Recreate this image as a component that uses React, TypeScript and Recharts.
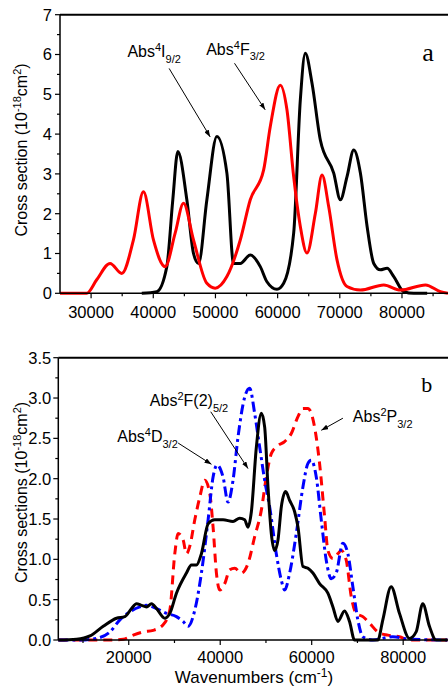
import React from "react";
import {
  LineChart,
  Line,
  XAxis,
  YAxis,
  ReferenceLine,
  ReferenceDot,
} from "recharts";

const FONT = "'Liberation Sans', Arial, sans-serif";
const SERIF = "'Liberation Serif', 'Times New Roman', serif";

// ---- panel a : Abs 4I9/2 (black) and Abs 4F3/2 (red)
const i92X = [38150, 40570, 42180, 43140, 43950, 45400, 46470, 47280, 48620, 50230, 51840, 52910, 53990, 55600, 57210, 58280, 59890, 60970, 62580, 63650, 64450, 65530, 66870, 69020, 70090, 71160, 72240, 73310, 74390, 75460, 76530, 77610, 78680, 80290, 81900, 84050];
const i92Y = [0, 0.04, 0.67, 2.35, 3.56, 2.35, 1.0, 0.75, 2.35, 3.94, 3.02, 0.75, 0.75, 0.96, 0.67, 0.29, 0.1, 0.25, 1.51, 4.86, 6.03, 5.28, 3.85, 3.02, 2.35, 2.93, 3.6, 3.02, 1.68, 0.75, 0.59, 0.63, 0.42, 0.04, 0, 0];

const f32X = [25000, 29290, 30900, 33050, 34930, 36810, 38420, 40030, 41910, 43520, 44860, 46470, 48620, 49960, 51840, 53990, 55600, 57750, 58820, 60430, 61500, 62580, 63650, 64720, 66070, 67140, 68210, 69550, 71160, 73310, 77070, 79750, 83780, 86200, 87400];
const f32Y = [0, 0, 0.34, 0.75, 0.5, 1.34, 2.55, 1.34, 0.67, 1.51, 2.26, 1.34, 0.25, 0.13, 0.42, 1.34, 2.35, 3.1, 4.19, 5.23, 4.61, 2.93, 1.68, 1.01, 2.01, 2.97, 2.18, 0.84, 0.17, 0.08, 0.21, 0.08, 0.21, 0.04, 0];

// ---- panel b : Abs 2F(2)5/2 (black), Abs 4D3/2 (blue), Abs 2P3/2 (red)
const f52X = [4600, 8600, 11510, 14420, 17330, 19150, 20610, 21700, 22790, 23880, 24980, 26070, 27890, 28980, 30430, 32620, 33710, 34800, 35890, 37350, 38800, 40620, 42800, 44260, 45350, 46080, 46810, 47900, 48990, 49720, 50440, 51170, 51900, 52630, 53360, 54300, 55180, 56270, 57000, 58090, 59180, 60270, 61720, 63540, 64640, 65730, 67180, 68270, 69370, 74460, 75550, 77370, 79190, 81370, 82830, 84280, 85740, 87190, 89670];
const f52Y = [0, 0.01, 0.05, 0.17, 0.27, 0.29, 0.39, 0.45, 0.43, 0.41, 0.45, 0.39, 0.27, 0.33, 0.58, 0.83, 0.93, 0.93, 1.07, 1.44, 1.49, 1.49, 1.47, 1.51, 1.49, 1.4, 1.59, 2.39, 2.81, 2.64, 1.9, 1.32, 1.11, 1.24, 1.65, 1.84, 1.73, 1.59, 1.4, 0.91, 0.89, 0.83, 0.7, 0.58, 0.41, 0.23, 0.36, 0.23, 0, 0, 0.25, 0.66, 0.33, 0.02, 0.1, 0.45, 0.17, 0, 0];

const d32X = [4600, 9330, 12970, 15880, 18060, 20250, 22430, 23880, 26070, 28250, 30430, 31890, 32980, 34440, 35890, 37350, 38440, 39310, 40620, 41710, 42800, 43900, 45350, 46440, 47530, 48630, 49720, 50810, 52260, 53360, 54080, 55180, 56630, 58090, 59180, 59910, 61000, 62090, 63180, 64270, 65360, 66820, 67910, 69000, 70090, 71180, 73370, 77730, 81370, 89670];
const d32Y = [0, 0, 0.02, 0.1, 0.25, 0.35, 0.41, 0.43, 0.39, 0.33, 0.29, 0.23, 0.17, 0.37, 0.83, 1.49, 2.02, 2.17, 2.02, 1.71, 1.98, 2.52, 3.01, 3.12, 2.81, 2.39, 1.98, 1.65, 1.07, 0.74, 0.62, 0.83, 1.32, 1.9, 2.19, 2.23, 2.02, 1.49, 0.99, 0.76, 0.83, 1.2, 1.07, 0.66, 0.25, 0.04, 0, 0.04, 0.01, 0];

const p32X = [4600, 15880, 18790, 20970, 23160, 25340, 27520, 28980, 30070, 30800, 31890, 32620, 33340, 34440, 35530, 36620, 37710, 38440, 39170, 39890, 40990, 42080, 43170, 44620, 46080, 47530, 48990, 50080, 51170, 52630, 54080, 55540, 57000, 58090, 59180, 60630, 61720, 62820, 63540, 64640, 65730, 66460, 67550, 68640, 69730, 71180, 72640, 74460, 76640, 79190, 81370, 89670];
const p32Y = [0, 0, 0.01, 0.06, 0.1, 0.12, 0.19, 0.37, 1.07, 1.32, 1.24, 1.07, 1.16, 1.49, 1.77, 1.98, 1.82, 1.4, 0.83, 0.62, 0.7, 0.87, 0.89, 0.83, 0.95, 1.28, 1.61, 2.02, 2.31, 2.41, 2.46, 2.56, 2.77, 2.87, 2.87, 2.64, 2.19, 1.53, 1.11, 1.01, 1.07, 1.11, 0.99, 0.54, 0.33, 0.29, 0.21, 0.1, 0.06, 0.04, 0, 0];

// ticks
const aXMajor = [30000, 40000, 50000, 60000, 70000, 80000];
const aXMinor = [35000, 45000, 55000, 65000, 75000, 85000];
const aYMajor = [0, 1, 2, 3, 4, 5, 6, 7];
const aYMinor = [0.5, 1.5, 2.5, 3.5, 4.5, 5.5, 6.5];
const bXMajor = [20000, 40000, 60000, 80000];
const bXMinor = [10000, 30000, 50000, 70000];
const bYMajor = [0, 0.5, 1, 1.5, 2, 2.5, 3, 3.5];
const bYMinor = [0.25, 0.75, 1.25, 1.75, 2.25, 2.75, 3.25];

const zip = (xs: number[], ys: number[]) => xs.map((x, i) => ({ x, y: ys[i] }));

type Part = [string, "n" | "sup" | "sub"];

// text with super/subscripts; ax/ay (if given) win over whatever recharts passes in
function RichText(props: any) {
  const { parts, size = 16, anchor = "start", rotate = false } = props;
  const x = props.ax ?? props.x;
  const y = props.ay ?? props.y;
  let cur = 0;
  const small = Math.round(size * 0.68);
  return (
    <text
      x={x}
      y={y}
      fontFamily={FONT}
      fontSize={size}
      fill="#000"
      textAnchor={anchor}
      transform={rotate ? `rotate(-90 ${x} ${y})` : undefined}
    >
      {parts.map(([t, k]: Part, i: number) => {
        const target = k === "sup" ? -size * 0.36 : k === "sub" ? size * 0.36 : 0;
        const dy = target - cur;
        cur = target;
        return (
          <tspan key={i} dy={dy} fontSize={k === "n" ? size : small}>
            {t}
          </tspan>
        );
      })}
    </text>
  );
}

const XTick = ({ x, y, payload, majors, off }: any) => {
  const major = majors.includes(payload.value);
  return (
    <g>
      <line x1={x} x2={x} y1={y} y2={y + (major ? 5 : 3)} stroke="#000" strokeWidth={1.2} />
      {major && (
        <text x={x} y={y + off} textAnchor="middle" fontFamily={FONT} fontSize={16.5} fill="#000">
          {payload.value}
        </text>
      )}
    </g>
  );
};

const YTick = ({ x, y, payload, majors, gap, fmt }: any) => {
  const major = majors.includes(payload.value);
  return (
    <g>
      <line x1={x - (major ? 5 : 3)} x2={x} y1={y} y2={y} stroke="#000" strokeWidth={1.2} />
      {major && (
        <text x={x - gap} y={y} dy="0.36em" textAnchor="end" fontFamily={FONT} fontSize={16.5} fill="#000">
          {fmt(payload.value)}
        </text>
      )}
    </g>
  );
};

const arrowDefs = (id: string) => (
  <defs>
    <marker id={id} markerWidth={7} markerHeight={5} refX={7} refY={2.5} orient="auto" markerUnits="userSpaceOnUse">
      <path d="M0,0 L7,2.5 L0,5 z" fill="#000" />
    </marker>
  </defs>
);

const axisStyle = { stroke: "#000", strokeWidth: 1.5 };

function PanelA() {
  return (
    <LineChart width={448} height={330} margin={{ top: 14.7, right: 0, bottom: 0, left: 0 }}>
      {arrowDefs("arrA")}
      <XAxis
        type="number"
        dataKey="x"
        domain={[25000, 87400]}
        ticks={[...aXMajor, ...aXMinor].sort((a, b) => a - b)}
        interval={0}
        height={36.7}
        axisLine={axisStyle}
        tickLine={false}
        tickSize={0}
        tickMargin={0}
        tick={(p: any) => <XTick {...p} majors={aXMajor} off={25} />}
      />
      <YAxis
        type="number"
        domain={[0, 7]}
        ticks={[...aYMajor, ...aYMinor].sort((a, b) => a - b)}
        interval={0}
        width={60}
        axisLine={axisStyle}
        tickLine={false}
        tickSize={0}
        tickMargin={0}
        tick={(p: any) => <YTick {...p} majors={aYMajor} gap={8} fmt={(v: number) => String(v)} />}
        label={
          <RichText
            ax={27}
            ay={150}
            rotate
            anchor="middle"
            size={16}
            parts={[["Cross section (10", "n"], ["-18", "sup"], ["cm", "n"], ["2", "sup"], [")", "n"]]}
          />
        }
      />
      <ReferenceLine y={7} stroke="#000" strokeWidth={2} />
      <Line data={zip(i92X, i92Y)} dataKey="y" type="monotone" stroke="#000" strokeWidth={3} dot={false} isAnimationActive={false} />
      <Line data={zip(f32X, f32Y)} dataKey="y" type="monotone" stroke="#ff0000" strokeWidth={3} dot={false} isAnimationActive={false} />
      <ReferenceLine segment={[{ x: 42550, y: 5.65 }, { x: 49150, y: 3.93 }]} stroke="#000" strokeWidth={1} markerEnd="url(#arrA)" />
      <ReferenceLine segment={[{ x: 53065, y: 5.78 }, { x: 58000, y: 4.61 }]} stroke="#000" strokeWidth={1} markerEnd="url(#arrA)" />
      <ReferenceDot
        x={35840}
        y={5.94}
        r={0}
        shape={(p: any) => <RichText ax={p.cx} ay={p.cy} parts={[["Abs", "n"], ["4", "sup"], ["I", "n"], ["9/2", "sub"]]} />}
      />
      <ReferenceDot
        x={48510}
        y={6.0}
        r={0}
        shape={(p: any) => <RichText ax={p.cx} ay={p.cy} parts={[["Abs", "n"], ["4", "sup"], ["F", "n"], ["3/2", "sub"]]} />}
      />
      <ReferenceDot
        x={83240}
        y={5.84}
        r={0}
        shape={(p: any) => (
          <text x={p.cx} y={p.cy} fontFamily={SERIF} fontSize={26} fill="#000">
            a
          </text>
        )}
      />
    </LineChart>
  );
}

function PanelB() {
  return (
    <LineChart width={448} height={359} margin={{ top: 27.7, right: 0, bottom: 0, left: 0 }}>
      {arrowDefs("arrB")}
      <XAxis
        type="number"
        dataKey="x"
        domain={[4600, 89800]}
        ticks={[...bXMajor, ...bXMinor].sort((a, b) => a - b)}
        interval={0}
        height={49}
        axisLine={axisStyle}
        tickLine={false}
        tickSize={0}
        tickMargin={0}
        tick={(p: any) => <XTick {...p} majors={bXMajor} off={23} />}
        label={
          <RichText
            ax={254}
            ay={353}
            anchor="middle"
            size={17}
            parts={[["Wavenumbers (cm", "n"], ["-1", "sup"], [")", "n"]]}
          />
        }
      />
      <YAxis
        type="number"
        domain={[0, 3.5]}
        ticks={[...bYMajor, ...bYMinor].sort((a, b) => a - b)}
        interval={0}
        width={58.3}
        axisLine={axisStyle}
        tickLine={false}
        tickSize={0}
        tickMargin={0}
        tick={(p: any) => <YTick {...p} majors={bYMajor} gap={7} fmt={(v: number) => v.toFixed(1)} />}
        label={
          <RichText
            ax={26.7}
            ay={162.5}
            rotate
            anchor="middle"
            size={16}
            parts={[["Cross sections (10", "n"], ["-18", "sup"], ["cm", "n"], ["2", "sup"], [")", "n"]]}
          />
        }
      />
      <ReferenceLine y={3.5} stroke="#000" strokeWidth={2} />
      <Line data={zip(p32X, p32Y)} dataKey="y" type="monotone" stroke="#ff0000" strokeWidth={3} strokeDasharray="9 6" dot={false} isAnimationActive={false} />
      <Line data={zip(d32X, d32Y)} dataKey="y" type="monotone" stroke="#0000ff" strokeWidth={3} strokeDasharray="10 4 3 4" dot={false} isAnimationActive={false} />
      <Line data={zip(f52X, f52Y)} dataKey="y" type="monotone" stroke="#000" strokeWidth={3} dot={false} isAnimationActive={false} />
      <ReferenceLine segment={[{ x: 30800, y: 2.442 }, { x: 38090, y: 2.178 }]} stroke="#000" strokeWidth={1} markerEnd="url(#arrB)" />
      <ReferenceLine segment={[{ x: 37930, y: 2.83 }, { x: 46080, y: 2.125 }]} stroke="#000" strokeWidth={1} markerEnd="url(#arrB)" />
      <ReferenceLine segment={[{ x: 66820, y: 2.75 }, { x: 62100, y: 2.6 }]} stroke="#000" strokeWidth={1} markerEnd="url(#arrB)" />
      <ReferenceDot
        x={24620}
        y={2.9}
        r={0}
        shape={(p: any) => <RichText ax={p.cx} ay={p.cy} parts={[["Abs", "n"], ["2", "sup"], ["F(2)", "n"], ["5/2", "sub"]]} />}
      />
      <ReferenceDot
        x={17480}
        y={2.454}
        r={0}
        shape={(p: any) => <RichText ax={p.cx} ay={p.cy} parts={[["Abs", "n"], ["4", "sup"], ["D", "n"], ["3/2", "sub"]]} />}
      />
      <ReferenceDot
        x={69000}
        y={2.7}
        r={0}
        shape={(p: any) => <RichText ax={p.cx} ay={p.cy} parts={[["Abs", "n"], ["2", "sup"], ["P", "n"], ["3/2", "sub"]]} />}
      />
      <ReferenceDot
        x={83930}
        y={3.07}
        r={0}
        shape={(p: any) => (
          <text x={p.cx} y={p.cy} fontFamily={SERIF} fontSize={22} fill="#000">
            b
          </text>
        )}
      />
    </LineChart>
  );
}

export default function App() {
  return (
    <div style={{ position: "absolute", left: 0, top: 0, width: 448, height: 689, overflow: "hidden", background: "#fff" }}>
      <div style={{ position: "absolute", left: 0, top: 0 }}>
        <PanelA />
      </div>
      <div style={{ position: "absolute", left: 0, top: 330 }}>
        <PanelB />
      </div>
    </div>
  );
}
